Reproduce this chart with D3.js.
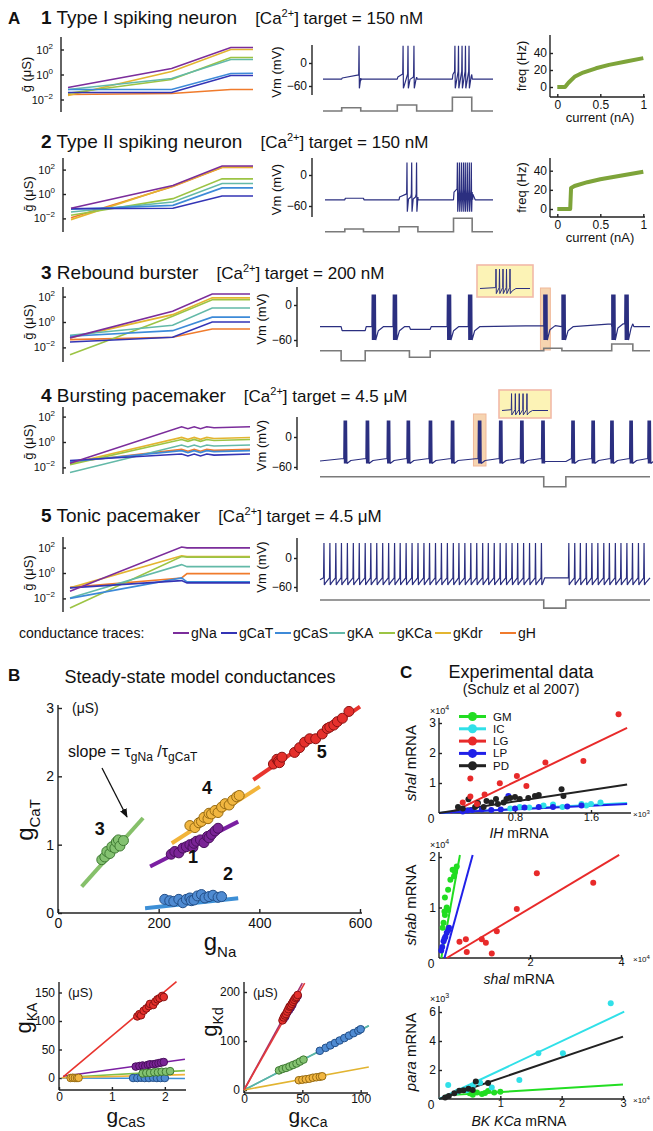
<!DOCTYPE html>
<html>
<head>
<meta charset="utf-8">
<script src="https://cdn.jsdelivr.net/npm/d3@7"></script>
<style>
body { margin: 0; background: #fff; }
</style>
</head>
<body>
<script>
// ---------------- data ----------------
const channels = ["gNa", "gCaT", "gCaS", "gKA", "gKCa", "gKdr", "gH"];
const rowNums = ["1", "2", "3", "4", "5"];
const rowNames = ["Type I spiking neuron", "Type II spiking neuron", "Rebound burster", "Bursting pacemaker", "Tonic pacemaker"];
const caTargets = ["150 nM", "150 nM", "200 nM", "4.5 \u03bcM", "4.5 \u03bcM"];

// log10 conductance (uS) at fractions of the simulation, order = channels
const condTimes1 = [0, 0.56, 0.88, 1];
const condLog1 = [
  [-1.04, 0.48, 2.16, 2.16], [-1.44, -1.44, -0.08, -0.08], [-1.2, -1.2, 0.08, 0.1],
  [-1.2, -0.32, 1.2, 1.2], [-1.5, -0.4, 1.36, 1.36], [-1.68, 0.24, 2.0, 2.0], [-1.6, -1.52, -1.2, -1.2]];
const condTimes2 = [0, 0.56, 0.83, 1];
const condLog2 = [
  [-1.17, 0.7, 2.3, 2.3], [-1.2, -1.17, -0.17, -0.17], [-1.25, -0.93, 0.5, 0.5],
  [-1.47, -0.65, 0.86, 0.86], [-1.74, -0.38, 1.24, 1.24], [-2.1, 0.65, 2.2, 2.2], [-1.95, 0.62, 2.18, 2.18]];
const condTimes3 = [0, 0.57, 0.79, 1];
const condLog3 = [
  [-1.25, 0.85, 2.2, 2.2], [-1.57, -1.2, 0.0, 0.0], [-1.12, -0.68, 0.38, 0.38],
  [-1.04, -0.25, 1.1, 1.1], [-2.57, 0.45, 1.75, 1.75], [-1.25, 0.58, 1.9, 1.9], [-1.39, -1.2, -0.55, -0.55]];
const condTimes4 = [0, 0.62, 0.655, 0.69, 0.725, 0.76, 0.8, 1];
const condWiggle4 = [0, 0, -0.15, 0, -0.15, 0, -0.08, 0];
const condLog4 = [ // [start, plateau]
  [-1.67, 1.2], [-1.46, -0.95], [-1.55, -0.68], [-2.4, -0.24], [-1.78, 0.2], [-1.7, 0.36], [-1.6, -0.58]];
const condTimes5 = [0, 0.62, 0.65, 1];
const condLog5 = [
  [-1.44, 2.05, 1.98, 1.98], [-1.17, -0.6, -0.78, -0.78], [-2.0, -0.39, -0.7, -0.7],
  [-1.96, 0.66, 0.5, 0.5], [-2.75, 1.3, 1.25, 1.25], [-1.17, 1.35, 1.3, 1.3], [-1.13, -0.39, -0.05, -0.05]];

// voltage traces: spike / burst times and current steps [start, end, amplitude]
const vmSpikes1 = [212, 471, 500, 535, 776, 797, 818, 838, 859];           // ms
const iSteps1 = [[110, 222, 0.24], [437, 551, 0.44], [761, 875, 1.0]];
const vmSpikes2 = [488, 516, 545, 788, 800, 812, 824, 835, 847, 859, 871];  // ms
const iSteps2 = [[118, 229, 0.2], [441, 553, 0.37], [765, 876, 1.0]];
const vmBursts3 = [1.58, 2.22, 3.86, 4.50, 6.78, 7.33, 8.84, 9.24];       // s
const iSteps3 = [[0.64, 1.37, -1.0], [2.71, 3.34, -0.66], [6.78, 7.33, 0.24], [8.84, 9.48, 0.67]];
const vmBursts4 = [0.73, 1.40, 2.04, 2.64, 3.31, 3.98, 4.80, 5.44, 6.08, 6.72, 7.63, 8.24, 8.81, 9.39, 9.94];
const iSteps4 = [[6.78, 7.45, -1.0]];
const vmSpikes5 = [0.12, 0.30, 0.48, 0.65, 0.83, 1.01, 1.19, 1.37, 1.54, 1.72, 1.90, 2.08, 2.26, 2.43,
  2.61, 2.79, 2.97, 3.15, 3.32, 3.50, 3.68, 3.86, 4.04, 4.21, 4.39, 4.57, 4.75, 4.93, 5.10, 5.28, 5.46,
  5.64, 5.82, 5.99, 6.17, 6.35, 6.53, 6.71, 7.54, 7.72, 7.89, 8.07, 8.24, 8.42, 8.60, 8.77, 8.95, 9.12,
  9.30, 9.47, 9.65, 9.82];
const iSteps5 = [[6.78, 7.45, -0.9]];
const insetSpikes3 = [128, 156, 184, 212, 240];  // ms in a 400 ms window
const insetSpikes4 = [83, 116, 150, 183, 217];

// f-I curves
const fiCurrent1 = [0, 0.09, 0.13, 0.2, 0.3, 0.45, 0.6, 0.8, 1.0];
const fiFreq1 = [0, 0, 5, 12, 17, 22, 26, 30, 34];
const fiCurrent2 = [0, 0.15, 0.16, 0.2, 0.35, 0.5, 0.75, 1.0];
const fiFreq2 = [0, 0, 22, 24, 28, 31, 35, 39];

// panel B: groups 1..5
const bGroups = ["1", "2", "3", "4", "5"];
const naCaT1 = [[225, 0.86], [232, 0.9], [240, 0.88], [248, 0.95], [255, 0.97], [262, 1.0], [268, 0.96], [270, 1.02],
  [275, 1.05], [283, 1.07], [290, 1.03], [297, 1.12], [300, 1.1], [305, 1.15], [312, 1.2], [318, 1.24]];
const naCaT2 = [[212, 0.2], [222, 0.18], [230, 0.17], [240, 0.2], [248, 0.15], [255, 0.2], [262, 0.22], [265, 0.18],
  [270, 0.19], [277, 0.25], [285, 0.27], [292, 0.22], [300, 0.24], [308, 0.26], [318, 0.23], [325, 0.24]];
const naCaT3 = [[87, 0.78], [93, 0.82], [97, 0.9], [103, 0.87], [107, 0.97], [113, 0.95], [116, 1.04], [120, 1.07],
  [123, 0.98], [130, 1.06]];
const naCaT4 = [[262, 1.28], [272, 1.25], [280, 1.32], [285, 1.34], [290, 1.4], [298, 1.38], [300, 1.46], [305, 1.45],
  [312, 1.5], [318, 1.47], [325, 1.55], [332, 1.6], [340, 1.58], [347, 1.65], [355, 1.7], [360, 1.72]];
const naCaT5 = [[428, 2.18], [435, 2.25], [438, 2.22], [440, 2.2], [445, 2.28], [470, 2.35], [480, 2.42], [490, 2.5],
  [500, 2.55], [512, 2.55], [525, 2.62], [535, 2.7], [540, 2.72], [548, 2.75], [555, 2.8], [565, 2.85], [578, 2.95]];
const fitNaCaT = [[183, 0.68, 358, 1.337], [173, 0.07, 358, 0.215], [47, 0.385, 169, 1.39], [226, 1.02, 401, 1.85], [388, 1.95, 600, 3.02]];

const casKA1 = [[1.45, 20], [1.52, 21], [1.58, 22], [1.63, 21], [1.68, 23], [1.72, 24], [1.78, 24], [1.83, 25], [1.88, 26], [1.93, 27], [1.98, 28]];
const casKA2 = [[1.4, 0], [1.48, 0], [1.55, 0.5], [1.62, 0], [1.7, 0], [1.78, 0.5], [1.85, 0], [1.92, 0], [2.0, 0]];
const casKA3 = [[1.58, 8], [1.65, 9], [1.72, 9], [1.8, 10], [1.87, 10], [1.94, 11], [2.02, 11], [2.1, 12]];
const casKA4 = [[0.22, 0], [0.26, 0.5], [0.3, 0], [0.34, 0], [0.37, 0.3]];
const casKA5 = [[1.48, 108], [1.52, 112], [1.55, 110], [1.6, 118], [1.65, 122], [1.7, 126], [1.72, 130], [1.78, 128],
  [1.82, 134], [1.86, 138], [1.9, 140], [1.95, 144], [1.98, 142]];
const fitCaSKA = [[0.08, 3, 2.38, 33], [0.05, 0, 2.38, -1], [0.08, 1, 2.38, 13], [0.05, 0.5, 2.38, 6], [0.08, 2, 2.22, 169]];

const kcaKd1 = [[34, 145], [35.5, 150], [37, 158], [38.5, 163], [40, 168], [41.5, 174], [43, 182], [44.5, 186], [46, 192]];
const kcaKd2 = [[65, 80], [70, 86], [74, 91], [78, 96], [82, 101], [86, 106], [90, 111], [94, 116], [98, 121], [100, 124]];
const kcaKd3 = [[30, 40], [33, 43], [36, 45], [39, 48], [42, 51], [45, 54], [48, 58], [51, 62]];
const kcaKd4 = [[47, 20], [50, 21], [53, 22], [56, 23], [59, 25], [62, 26], [65, 27], [67, 28]];
const kcaKd5 = [[33, 142], [34, 148], [35, 152], [36, 155], [37, 160], [38, 165], [39, 170], [40, 172], [41, 176],
  [42, 180], [43, 184], [44, 188], [45, 190], [46, 194]];
const fitKCaKd = [[0, 0, 50, 218], [0, 0, 107, 131], [0, 0, 107, 131], [0, 0, 107, 47], [0, 0, 52, 218]];

// panel C: cell types
const cellTypes = ["GM", "IC", "LG", "LP", "PD"];
// IH (x10^3) vs shal (x10^4)
const ihShalIC = [[0.75, 0.15], [0.85, 0.2], [0.95, 0.18], [1.1, 0.25], [1.2, 0.28], [1.3, 0.2], [1.5, 0.3], [1.55, 0.25], [1.6, 0.3], [1.7, 0.35]];
const ihShalLG = [[0.25, 0.35], [0.33, 1.15], [0.33, 0.55], [0.4, 0.3], [0.48, 0.62], [0.64, 0.99], [0.82, 1.23], [0.92, 0.9], [1.12, 1.68], [1.52, 1.73], [1.89, 3.29]];
const ihShalLP = [[0.25, 0.05], [0.3, 0.08], [0.35, 0.1], [0.45, 0.12], [0.55, 0.1], [0.65, 0.12], [0.73, 0.57], [0.8, 0.15], [0.9, 0.18], [1.05, 0.2], [1.2, 0.2], [1.35, 0.22], [1.5, 0.25]];
const ihShalPD = [[0.2, 0.2], [0.25, 0.15], [0.31, 0.46], [0.38, 0.2], [0.41, 0.33], [0.47, 0.2], [0.5, 0.4], [0.55, 0.35], [0.6, 0.47], [0.62, 0.3],
  [0.68, 0.35], [0.71, 0.47], [0.75, 0.5], [0.8, 0.53], [0.85, 0.47], [0.94, 0.5], [1.01, 0.57], [1.05, 0.6], [1.29, 0.79], [1.31, 0.57]];
const fitIhShal = { IC: [0, 0, 1.98, 0.33], LG: [0.12, 0, 1.98, 2.84], LP: [0, 0, 1.98, 0.3], PD: [0, 0, 1.98, 0.95] };
// shal (x10^4) vs shab (x10^4)
const shalShabGM = [[0.35, 1.71], [0.39, 1.81], [0.33, 1.62], [0.3, 1.75], [0.25, 1.55], [0.2, 1.35], [0.13, 1.2], [0.17, 1.0], [0.2, 0.95],
  [0.12, 0.92], [0.13, 0.85], [0.1, 0.7], [0.08, 0.6]];
const shalShabLG = [[2.15, 1.68], [3.39, 1.49], [1.71, 0.97], [0.45, 0.32], [0.59, 0.37], [0.61, 0.12], [0.94, 0.37], [1.03, 0.3], [1.16, 0.09], [1.27, 0.53]];
const shalShabLP = [[0.2, 0.55], [0.22, 0.6], [0.17, 0.5], [0.14, 0.42], [0.12, 0.38], [0.1, 0.33], [0.07, 0.22], [0.05, 0.15]];
const fitShalShab = { GM: [0.05, 0, 0.46, 2.04], LG: [0.17, 0, 3.96, 2.04], LP: [0.12, 0, 0.74, 2.04] };
// BK KCa (x10^4) vs para (x10^3)
const kcaParaGM = [[0.5, 0.4], [0.55, 0.3], [0.62, 0.45], [0.7, 0.35], [0.75, 0.42], [0.8, 0.55], [0.9, 0.45], [1.0, 0.5]];
const kcaParaIC = [[0.15, 0.97], [0.3, 0.5], [0.45, 0.6], [0.55, 0.9], [0.67, 1.12], [0.86, 0.8], [1.31, 1.31], [1.62, 3.15], [2.02, 3.15], [2.8, 6.6]];
const kcaParaPD = [[0.1, 0.1], [0.16, 0.2], [0.25, 0.4], [0.33, 0.57], [0.4, 0.6], [0.48, 0.7], [0.55, 0.62], [0.6, 1.2], [0.8, 1.1]];
const fitKcaPara = { GM: [0.1, 0.25, 3.0, 1.0], IC: [0, 0, 3.02, 6.02], PD: [0, 0, 3.0, 4.3] };

// ---------------- style ----------------
const FONT = '"Liberation Sans", Arial, sans-serif';
const chColors = ["#7b2d9b", "#3334b5", "#3d8ad8", "#63b9a8", "#9cc444", "#e3b530", "#f07b2c"];
const vmColor = "#2b2f80";
const bFill = ["#7a2496", "#4f8bd2", "#84c271", "#f1b640", "#e5302c"];
const bStroke = ["#4a0f5e", "#234f88", "#3f7a33", "#976b12", "#8a1212"];
const bLine = ["#7b1fa2", "#3d8fd6", "#86c06a", "#f2b43a", "#e8342e"];
const krLine = ["#a3306f", "#5ab4a8", "#5ab4a8", "#e2b431", "#e23a3a"];
const cColors = ["#22dd22", "#30e0e8", "#e82a2a", "#2020e8", "#222222"];

const svg = d3.select("body").append("svg")
  .attr("width", 653).attr("height", 1131)
  .attr("font-family", FONT);

svg.append("defs").append("marker")
  .attr("id", "arr").attr("viewBox", "0 0 10 10").attr("refX", 9).attr("refY", 5)
  .attr("markerWidth", 7).attr("markerHeight", 7).attr("orient", "auto")
  .append("path").attr("d", "M0,1L10,5L0,9z").attr("fill", "#111");
const hlLayer = svg.append("g"); // highlight boxes sit under the traces

function rich(x, y, parts, o = {}) {
  const t = svg.append("text").attr("x", x).attr("y", y)
    .attr("font-size", o.fs || 12).attr("text-anchor", o.anchor || "start").attr("fill", "#111");
  if (o.rot) t.attr("transform", `rotate(-90,${x},${y})`);
  if (o.family) t.attr("font-family", o.family);
  parts.forEach(p => {
    const s = t.append("tspan").text(p.t);
    if (p.fs) s.attr("font-size", p.fs);
    if (p.dy) s.attr("dy", p.dy);
    if (p.b) s.attr("font-weight", "bold");
    if (p.i) s.attr("font-style", "italic");
  });
  return t;
}

function styleAxis(g, fs) {
  g.selectAll("line,path").attr("stroke", "#222").attr("stroke-width", 1.4);
  g.selectAll("text").attr("font-size", fs).attr("font-family", FONT).attr("fill", "#111");
}
function axisV(x0, scale, ticks, fmt, lo, hi, fs, inner, pad) {
  const g = svg.append("g").attr("transform", `translate(${x0},0)`)
    .call(d3.axisLeft(scale).tickValues(ticks).tickFormat(fmt).tickSizeInner(inner).tickSizeOuter(0).tickPadding(pad));
  g.select(".domain").attr("d", `M0,${lo}V${hi}`);
  styleAxis(g, fs);
  return g;
}
function axisH(y0, scale, ticks, fmt, lo, hi, fs, inner, pad) {
  const g = svg.append("g").attr("transform", `translate(0,${y0})`)
    .call(d3.axisBottom(scale).tickValues(ticks).tickFormat(fmt).tickSizeInner(inner).tickSizeOuter(0).tickPadding(pad));
  g.select(".domain").attr("d", `M${lo},0H${hi}`);
  styleAxis(g, fs);
  return g;
}

// ---------------- panel A ----------------
rich(8, 24, [{ t: "A", b: true }], { fs: 17 });

const condL = [
  { ax: 61, x0: 68, x1: 253, cy: 74.5, top: 37, bot: 112, dec: 12.5, ty: 24 },
  { ax: 63, x0: 71, x1: 253, cy: 194, top: 158, bot: 232, dec: 12.2, ty: 148 },
  { ax: 63, x0: 70, x1: 250, cy: 322, top: 287, bot: 362, dec: 12.7, ty: 279 },
  { ax: 63, x0: 70, x1: 250, cy: 442, top: 407, bot: 474, dec: 12.7, ty: 402 },
  { ax: 63, x0: 70, x1: 250, cy: 573, top: 537, bot: 612, dec: 12.7, ty: 522 }
];
const condTimes = [condTimes1, condTimes2, condTimes3, condTimes4, condTimes5];
const condSeries = [condLog1, condLog2, condLog3,
  condLog4.map(c => condTimes4.map((t, j) => j === 0 ? c[0] : c[1] + condWiggle4[j])), condLog5];

condL.forEach((L, r) => {
  const tt = rich(41, L.ty, [{ t: rowNums[r], b: true }, { t: " " + rowNames[r] }], { fs: 19 });
  const tw = tt.node().getComputedTextLength();
  rich(41 + tw + 18, L.ty, [{ t: "[Ca" }, { t: "2+", fs: 11, dy: -7 }, { t: "] target = " + caTargets[r], dy: 7 }], { fs: 17 });

  const x = d3.scaleLinear().domain([0, 1]).range([L.x0, L.x1]);
  const y = d3.scaleLinear().domain([-3, 3]).range([L.cy + 3 * L.dec, L.cy - 3 * L.dec]);
  const g = axisV(L.ax, y, [-2, 0, 2], () => "10", L.top, L.bot, 11, -3, 8);
  g.selectAll(".tick text").append("tspan").attr("dy", -5).attr("font-size", 8)
    .text(d => d < 0 ? "\u2212" + (-d) : d);
  rich(L.ax - 30, L.cy, [{ t: "\u1e21 (\u03bcS)" }], { fs: 13, rot: true, anchor: "middle" });
  const line = d3.line().x(d => x(d[0])).y(d => y(d[1]));
  for (let i = channels.length - 1; i >= 0; i--) {
    svg.append("path").datum(condTimes[r].map((t, j) => [t, condSeries[r][i][j]]))
      .attr("d", line).attr("fill", "none").attr("stroke", chColors[i]).attr("stroke-width", 1.6);
  }
});

// voltage traces
function vmPoints(spikes, steps, p) {
  const cur = t => d3.sum(steps, s => (t >= s[0] && t < s[1]) ? s[2] : 0);
  const base = t => p.rest + p.shift * cur(t);
  const pts = [];
  const e = p.T * 0.003;
  if (p.mode === "flat") {
    pts.push([0, base(0)], [p.T, base(p.T)]);
    steps.forEach(s => [s[0], s[1]].forEach(tt => pts.push([tt, base(tt - 1e-9)], [tt + e, base(tt + e)])));
  } else {
    pts.push([0, p.start], [p.T, p.thr]);
    steps.forEach(s => pts.push([s[0] + e, p.dip], [s[1], p.dip]));
  }
  spikes.forEach((t, i) => {
    for (let k = 0; k < p.n; k++) {
      const tk = t + k * p.dt;
      pts.push([tk - p.w, p.mode === "flat" ? base(tk) + p.pre : p.thr], [tk, p.peak], [tk + p.w, p.trough]);
    }
    const tEnd = t + (p.n - 1) * p.dt + p.w;
    const next = i < spikes.length - 1 ? spikes[i + 1] : Infinity;
    if (p.mode === "flat" && next - tEnd > 3 * p.rec) {
      pts.push([tEnd + p.rec, base(tEnd) + p.ahp], [tEnd + 3 * p.rec, base(tEnd + 3 * p.rec)]);
    }
    if (p.mode === "ramp" && next - tEnd > 2 * p.midT && cur(tEnd + p.midT) === 0) pts.push([tEnd + p.midT, p.mid]);
  });
  return pts.sort((a, b) => a[0] - b[0]);
}
function curPoints(steps, T) {
  const pts = [[0, 0]];
  steps.forEach(s => pts.push([s[0], 0], [s[0], s[2]], [s[1], s[2]], [s[1], 0]));
  pts.push([T, 0]);
  return pts;
}

const vmL = [
  { ax: 312, x0: 323, x1: 493, y0: 63, y60: 86, top: 45, bot: 95, cb: 111, cpx: 13.7 },
  { ax: 312, x0: 325, x1: 493, y0: 175, y60: 206, top: 158, bot: 217, cb: 231.7, cpx: 13.4 },
  { ax: 297, x0: 320, x1: 650, y0: 305, y60: 340, top: 287, bot: 347, cb: 350.7, cpx: 10 },
  { ax: 297, x0: 320, x1: 650, y0: 437, y60: 467, top: 417, bot: 470, cb: 476.7, cpx: 10 },
  { ax: 297, x0: 320, x1: 650, y0: 558, y60: 587, top: 538, bot: 592, cb: 600, cpx: 9 }
];
const vmParams = [
  { T: 1000, mode: "flat", rest: -42, shift: 12, peak: 45, trough: -66, pre: 8, n: 1, dt: 0, w: 2, rec: 10, ahp: -6 },
  { T: 1000, mode: "flat", rest: -48, shift: 15, peak: 24, trough: -71, pre: 6, n: 1, dt: 0, w: 2, rec: 7, ahp: -4 },
  { T: 10, mode: "flat", rest: -37, shift: 7, peak: 18, trough: -60, pre: 0, n: 5, dt: 0.025, w: 0.008, rec: 0.08, ahp: -7 },
  { T: 10, mode: "ramp", start: -48, thr: -43, dip: -49, peak: 33, trough: -53, n: 4, dt: 0.025, w: 0.01, midT: 0.12, mid: -47 },
  { T: 10, mode: "ramp", start: -45, thr: -41, dip: -41, peak: 31, trough: -56, n: 1, dt: 0, w: 0.012, midT: 0.03, mid: -52 }
];
const vmEvents = [vmSpikes1, vmSpikes2, vmBursts3, vmBursts4, vmSpikes5];
const iSteps = [iSteps1, iSteps2, iSteps3, iSteps4, iSteps5];
const vmScales = [];

vmL.forEach((L, r) => {
  const p = vmParams[r];
  const x = d3.scaleLinear().domain([0, p.T]).range([L.x0, L.x1]);
  const y = d3.scaleLinear().domain([0, -60]).range([L.y0, L.y60]);
  const yc = d3.scaleLinear().domain([0, 1]).range([L.cb, L.cb - L.cpx]);
  vmScales.push({ x, y });
  axisV(L.ax, y, [0, -60], d3.format("d"), L.top, L.bot, 12, 3, 2);
  rich(L.ax - 31, (L.top + L.bot) / 2 + 2, [{ t: "Vm (mV)" }], { fs: 13, rot: true, anchor: "middle" });
  svg.append("path").datum(vmPoints(vmEvents[r], iSteps[r], p))
    .attr("d", d3.line().x(d => x(d[0])).y(d => y(d[1])))
    .attr("fill", "none").attr("stroke", vmColor).attr("stroke-width", 1.2).attr("stroke-linejoin", "bevel");
  svg.append("path").datum(curPoints(iSteps[r], p.T))
    .attr("d", d3.line().x(d => x(d[0])).y(d => yc(d[1])))
    .attr("fill", "none").attr("stroke", "#7a7a7a").attr("stroke-width", 1.6);
});

// highlighted bursts and insets
function highlight(r, t, half, y0, y1) {
  const s = vmScales[r];
  hlLayer.append("rect").attr("x", s.x(t - half)).attr("y", y0).attr("width", s.x(t + half) - s.x(t - half))
    .attr("height", y1 - y0).attr("fill", "rgba(238,176,112,0.55)").attr("stroke", "#f0b89a").attr("stroke-width", 1);
}
function inset(bx, by, bw, bh, spikes) {
  svg.append("rect").attr("x", bx).attr("y", by).attr("width", bw).attr("height", bh)
    .attr("fill", "#fcf3b6").attr("stroke", "#f2b9a8").attr("stroke-width", 1.6);
  const x = d3.scaleLinear().domain([0, 400]).range([bx + 3, bx + bw - 3]);
  const y = d3.scaleLinear().domain([-70, 30]).range([by + bh - 1, by + 1]);
  const pts = vmPoints(spikes, [], { T: 400, mode: "flat", rest: -45, shift: 0, peak: 20, trough: -62, pre: 3, n: 1, dt: 0, w: 2.5, rec: 15, ahp: -8 });
  svg.append("path").datum(pts).attr("d", d3.line().x(d => x(d[0])).y(d => y(d[1])))
    .attr("fill", "none").attr("stroke", vmColor).attr("stroke-width", 1);
}
highlight(2, vmBursts3[4] + 0.05, 0.15, 288, 350);
inset(477, 265, 56, 32, insetSpikes3);
highlight(3, vmBursts4[6] + 0.04, 0.19, 414, 466);
inset(499, 390, 52, 28, insetSpikes4);

// f-I curves
const fiL = [
  { ax: 550, y0: 87, y40: 53, top: 35, bot: 97 },
  { ax: 550, y0: 209, y40: 170.7, top: 158, bot: 217 }
];
const fiData = [[fiCurrent1, fiFreq1], [fiCurrent2, fiFreq2]];
fiL.forEach((L, r) => {
  const x = d3.scaleLinear().domain([0, 1]).range([557.3, 643.3]);
  const y = d3.scaleLinear().domain([0, 40]).range([L.y0, L.y40]);
  axisV(L.ax, y, [0, 20, 40], d3.format("d"), L.top, L.bot, 12, -3, 3);
  axisH(L.bot, x, [0, 0.5, 1], d3.format("~g"), L.ax, 645, 12, -3, 3);
  rich(L.ax - 24, (L.top + L.bot) / 2, [{ t: "freq (Hz)" }], { fs: 13, rot: true, anchor: "middle" });
  rich(600, L.bot + 25, [{ t: "current (nA)" }], { fs: 13, anchor: "middle" });
  svg.append("path").datum(fiData[r][0].map((c, i) => [c, fiData[r][1][i]]))
    .attr("d", d3.line().x(d => x(d[0])).y(d => y(d[1])))
    .attr("fill", "none").attr("stroke", "#7ea43a").attr("stroke-width", 4).attr("stroke-linejoin", "round");
});

// conductance legend
rich(19, 638, [{ t: "conductance traces:" }], { fs: 14 });
const legX = [173, 221, 275, 329, 379, 435, 500];
channels.forEach((c, i) => {
  svg.append("line").attr("x1", legX[i]).attr("x2", legX[i] + 16).attr("y1", 633).attr("y2", 633)
    .attr("stroke", chColors[i]).attr("stroke-width", 2);
  rich(legX[i] + 18, 638, [{ t: c }], { fs: 14 });
});

// ---------------- panel B ----------------
rich(8, 681, [{ t: "B", b: true }], { fs: 17 });
rich(200, 683, [{ t: "Steady-state model conductances" }], { fs: 18, anchor: "middle" });

function scatterPanel(xs, ys, groups, fits, lineColors, lw, rad) {
  const line = d3.line().x(d => xs(d[0])).y(d => ys(d[1]));
  fits.forEach((f, i) => {
    svg.append("path").datum([[f[0], f[1]], [f[2], f[3]]]).attr("d", line)
      .attr("stroke", lineColors[i]).attr("stroke-width", lw).attr("fill", "none");
  });
  groups.forEach((pts, i) => {
    svg.append("g").selectAll("circle").data(pts).join("circle")
      .attr("cx", d => xs(d[0])).attr("cy", d => ys(d[1])).attr("r", rad)
      .attr("fill", bFill[i]).attr("stroke", bStroke[i]).attr("stroke-width", 1);
  });
}

// gNa vs gCaT
{
  const xs = d3.scaleLinear().domain([0, 600]).range([58, 360]);
  const ys = d3.scaleLinear().domain([0, 3]).range([913, 708]);
  axisV(58, ys, [0, 1, 2, 3], d3.format("d"), 705, 913, 14, -4, 4);
  axisH(913, xs, [0, 200, 400, 600], d3.format("d"), 58, 362, 14, -4, 5);
  scatterPanel(xs, ys, [naCaT1, naCaT2, naCaT3, naCaT4, naCaT5], fitNaCaT, bLine, 4, 5);
  rich(72, 713, [{ t: "(\u03bcS)" }], { fs: 14 });
  rich(68, 757, [{ t: "slope = \u03c4" }, { t: "gNa", fs: 12, dy: 4 }, { t: " /\u03c4", dy: -4 }, { t: "gCaT", fs: 12, dy: 4 }], { fs: 16 });
  svg.append("line").attr("x1", 102).attr("y1", 768).attr("x2", 127).attr("y2", 817)
    .attr("stroke", "#111").attr("stroke-width", 1.3).attr("marker-end", "url(#arr)");
  const labs = [[268, 0.73], [338, 0.48], [83, 1.14], [296, 1.74], [524, 2.27]];
  bGroups.forEach((n, i) => rich(xs(labs[i][0]), ys(labs[i][1]), [{ t: n, b: true }], { fs: 18, anchor: "middle" }));
  rich(220, 950, [{ t: "g" }, { t: "Na", fs: 15, dy: 7 }], { fs: 24, anchor: "middle" });
  rich(33, 820, [{ t: "g" }, { t: "CaT", fs: 15, dy: 7 }], { fs: 24, anchor: "middle", rot: true });
}
// gCaS vs gKA
{
  const xs = d3.scaleLinear().domain([0, 2.4]).range([59, 186]);
  const ys = d3.scaleLinear().domain([0, 150]).range([1078, 992.5]);
  axisV(59, ys, [0, 50, 100, 150], d3.format("d"), 982, 1090, 12, -3, 4);
  axisH(1090, xs, [0, 1, 2], d3.format("d"), 59, 186, 12, -3, 2);
  scatterPanel(xs, ys, [casKA1, casKA2, casKA3, casKA4, casKA5], fitCaSKA, bLine.map((c, i) => i === 2 ? "#7fbf4a" : c), 1.6, 3.8);
  rich(68, 997, [{ t: "(\u03bcS)" }], { fs: 13 });
  rich(126, 1123, [{ t: "g" }, { t: "CaS", fs: 14, dy: 4 }], { fs: 21, anchor: "middle" });
  rich(31, 1018, [{ t: "g" }, { t: "KA", fs: 14, dy: 6 }], { fs: 22, anchor: "middle", rot: true });
}
// gKCa vs gKd
{
  const xs = d3.scaleLinear().domain([0, 105]).range([244, 366.5]);
  const ys = d3.scaleLinear().domain([0, 200]).range([1090, 992]);
  axisV(244, ys, [0, 100, 200], d3.format("d"), 982, 1093, 12, -3, 4);
  axisH(1093, xs, [0, 50, 100], d3.format("d"), 244, 368, 12, -3, 1);
  scatterPanel(xs, ys, [kcaKd1, kcaKd2, kcaKd3, kcaKd4, kcaKd5], fitKCaKd, krLine, 1.6, 3.8);
  rich(253, 997, [{ t: "(\u03bcS)" }], { fs: 13 });
  rich(308, 1123, [{ t: "g" }, { t: "KCa", fs: 14, dy: 4 }], { fs: 21, anchor: "middle" });
  rich(217, 1022, [{ t: "g" }, { t: "Kd", fs: 14, dy: 6 }], { fs: 22, anchor: "middle", rot: true });
}

// ---------------- panel C ----------------
rich(400, 678, [{ t: "C", b: true }], { fs: 17 });
rich(521, 678, [{ t: "Experimental data" }], { fs: 18, anchor: "middle" });
rich(521, 694, [{ t: "(Schulz et al 2007)" }], { fs: 14, anchor: "middle" });

function cPanel(L, series, fits) {
  const xs = d3.scaleLinear().domain([0, L.xMax]).range([439, L.xEnd]);
  const ys = d3.scaleLinear().domain([0, L.yMax]).range([L.base, L.yTopPx]);
  axisV(439, ys, L.yTicks, d3.format("~g"), L.axTop, L.base, 12, -3, 3);
  axisH(L.base, xs, L.xTicks, d3.format("~g"), 439, L.xEnd + 2, 11, -3, 0);
  rich(431, L.base + 10, [{ t: "0" }], { fs: 12, anchor: "middle" });
  rich(430, L.axTop - 4, [{ t: "\u00d710" }, { t: L.yExp, fs: 7, dy: -4 }], { fs: 9 });
  rich(633, L.base + 4, [{ t: "\u00d710" }, { t: L.xExp, fs: 6, dy: -3 }], { fs: 8 });
  const line = d3.line().x(d => xs(d[0])).y(d => ys(d[1]));
  Object.keys(fits).forEach(k => {
    const f = fits[k];
    svg.append("path").datum([[f[0], f[1]], [f[2], f[3]]]).attr("d", line)
      .attr("stroke", cColors[cellTypes.indexOf(k)]).attr("stroke-width", 2).attr("fill", "none");
  });
  series.forEach(([k, pts]) => {
    svg.append("g").selectAll("circle").data(pts).join("circle")
      .attr("cx", d => xs(d[0])).attr("cy", d => ys(d[1])).attr("r", 3)
      .attr("fill", cColors[cellTypes.indexOf(k)]);
  });
  rich(L.ylab[0], L.ylab[1], L.yName, { fs: 15, rot: true, anchor: "middle" });
  rich(L.xlab[0], L.xlab[1], L.xName, { fs: 14, anchor: "middle" });
}
cPanel({ xMax: 2, xEnd: 629, yMax: 3, base: 813, yTopPx: 723, axTop: 718, yTicks: [1, 2, 3], xTicks: [0.8, 1.6],
  yExp: "4", xExp: "3", ylab: [416, 763], xlab: [519, 838],
  yName: [{ t: "shal", i: true }, { t: " mRNA" }], xName: [{ t: "IH", i: true }, { t: " mRNA" }] },
  [["IC", ihShalIC], ["LP", ihShalLP], ["PD", ihShalPD], ["LG", ihShalLG]], fitIhShal);
cPanel({ xMax: 4, xEnd: 621, yMax: 2, base: 958, yTopPx: 857, axTop: 852, yTicks: [1, 2], xTicks: [2, 4],
  yExp: "4", xExp: "4", ylab: [416, 905], xlab: [519, 984],
  yName: [{ t: "shab", i: true }, { t: " mRNA" }], xName: [{ t: "shal", i: true }, { t: " mRNA" }] },
  [["LG", shalShabLG], ["LP", shalShabLP], ["GM", shalShabGM]], fitShalShab);
cPanel({ xMax: 3, xEnd: 623, yMax: 6, base: 1099, yTopPx: 1012, axTop: 1006, yTicks: [2, 4, 6], xTicks: [1, 2, 3],
  yExp: "3", xExp: "4", ylab: [416, 1052], xlab: [519, 1126],
  yName: [{ t: "para", i: true }, { t: " mRNA" }], xName: [{ t: "BK KCa", i: true }, { t: " mRNA" }] },
  [["GM", kcaParaGM], ["IC", kcaParaIC], ["PD", kcaParaPD]], fitKcaPara);

// legend for C
cellTypes.forEach((c, i) => {
  const yy = 716.5 + i * 12.3;
  svg.append("line").attr("x1", 459).attr("x2", 486).attr("y1", yy).attr("y2", yy)
    .attr("stroke", cColors[i]).attr("stroke-width", 3);
  svg.append("circle").attr("cx", 472.5).attr("cy", yy).attr("r", 4.5).attr("fill", cColors[i]);
  rich(493, yy + 4, [{ t: c }], { fs: 11.5 });
});
</script>
</body>
</html>
